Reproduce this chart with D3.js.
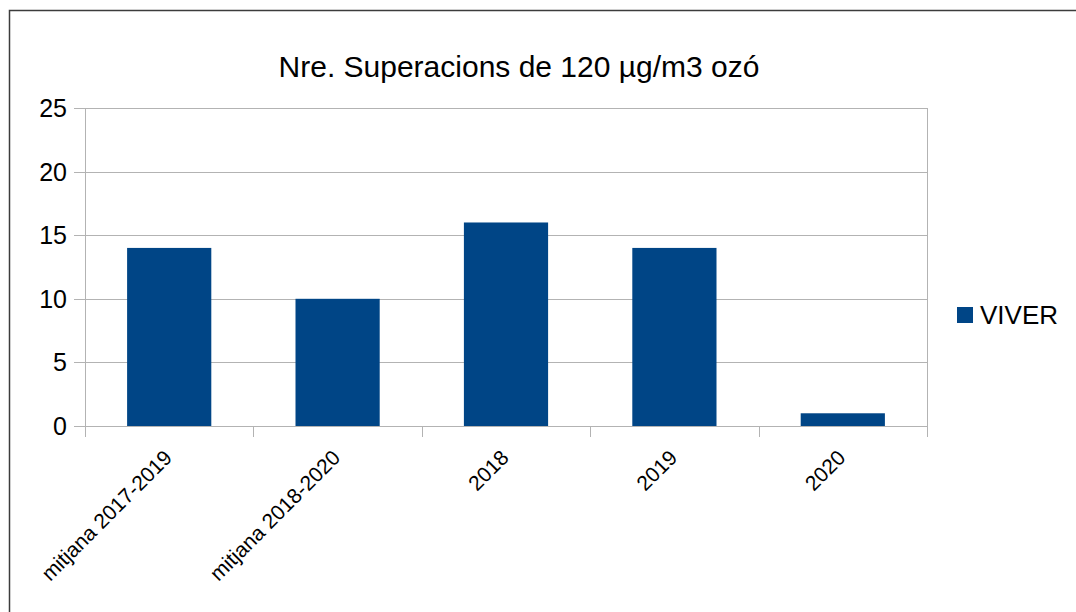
<!DOCTYPE html>
<html>
<head>
<meta charset="utf-8">
<script src="https://cdn.jsdelivr.net/npm/d3@7"></script>
<style>
  body { margin: 0; background: #fff; }
  text { font-family: "Liberation Sans", Arial, sans-serif; fill: #000; }
</style>
</head>
<body>
<div id="chart"></div>
<script>
// data
var categories = ["mitjana 2017-2019", "mitjana 2018-2020", "2018", "2019", "2020"];
var values = [14, 10, 16, 14, 1];
var seriesName = "VIVER";
var yTicks = [0, 5, 10, 15, 20, 25];
var title = "Nre. Superacions de 120 µg/m3 ozó";

var W = 1076, H = 612;
var margin = {top: 108, right: 149, bottom: 186, left: 85},
    width = W - margin.left - margin.right,
    height = H - margin.top - margin.bottom;

var svg = d3.select("#chart")
  .append("svg")
    .attr("width", W)
    .attr("height", H);

// outer frame
svg.append("rect")
  .attr("x", 9.5).attr("y", 10.5)
  .attr("width", 1200).attr("height", 800)
  .attr("fill", "none")
  .attr("stroke", "#3c3c3c")
  .attr("stroke-width", 1.5);

svg.append("text")
  .attr("x", 519).attr("y", 77)
  .attr("text-anchor", "middle")
  .style("font-size", "30px")
  .text(title);

var g = svg.append("g")
  .attr("transform", "translate(" + margin.left + "," + margin.top + ")");

var x = d3.scaleBand()
  .domain(categories)
  .range([0, width])
  .paddingInner(0.5)
  .paddingOuter(0.25);

var y = d3.scaleLinear()
  .domain([0, 25])
  .range([height, 0]);

// gridlines
g.selectAll(".grid")
  .data(yTicks)
  .enter()
  .append("line")
    .attr("x1", -11).attr("x2", width)
    .attr("y1", function(d) { return Math.round(y(d)) + 0.5; })
    .attr("y2", function(d) { return Math.round(y(d)) + 0.5; })
    .attr("stroke", "#b3b3b3")
    .attr("stroke-width", 1);

// y tick labels
g.selectAll(".ylab")
  .data(yTicks)
  .enter()
  .append("text")
    .attr("x", -18)
    .attr("y", function(d) { return y(d) + 9; })
    .attr("text-anchor", "end")
    .style("font-size", "25px")
    .text(function(d) { return d; });

// vertical line of plot area
g.append("line")
  .attr("x1", 0.5).attr("x2", 0.5)
  .attr("y1", 0).attr("y2", height + 11)
  .attr("stroke", "#b3b3b3");

// x ticks at band boundaries
var step = width / categories.length;
g.selectAll(".xtick")
  .data(d3.range(categories.length + 1))
  .enter()
  .append("line")
    .attr("x1", function(i) { return Math.round(i * step) + 0.5; })
    .attr("x2", function(i) { return Math.round(i * step) + 0.5; })
    .attr("y1", function(i) { return (i === 0 || i === categories.length) ? 0 : height; })
    .attr("y2", height + 11)
    .attr("stroke", "#b3b3b3");

// bars
g.selectAll(".bar")
  .data(values)
  .enter()
  .append("rect")
    .attr("x", function(d, i) { return x(categories[i]); })
    .attr("width", x.bandwidth())
    .attr("y", function(d) { return y(d); })
    .attr("height", function(d) { return height - y(d); })
    .attr("fill", "#004586");

// x labels rotated
g.selectAll(".xlab")
  .data(categories)
  .enter()
  .append("text")
    .attr("text-anchor", "end")
    .style("font-size", "21px")
    .attr("transform", function(d) {
      return "translate(" + (x(d) + x.bandwidth() / 2 + 4) + "," + (height + 33) + ") rotate(-45)";
    })
    .text(function(d) { return d; });

// legend
svg.append("rect")
  .attr("x", 957).attr("y", 307)
  .attr("width", 16).attr("height", 16)
  .attr("fill", "#004586");
svg.append("text")
  .attr("x", 980).attr("y", 324)
  .style("font-size", "26px")
  .text(seriesName);
</script>
</body>
</html>
